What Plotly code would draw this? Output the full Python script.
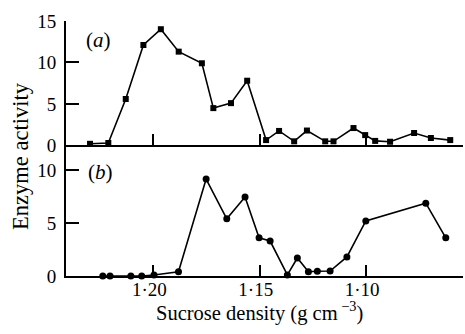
import plotly.graph_objects as go

# Panel (a): squares
dens_a = [1.2298, 1.2212, 1.2130, 1.2047, 1.1965, 1.1881, 1.1772, 1.1718, 1.1635,
          1.1559, 1.1470, 1.1409, 1.1338, 1.1278, 1.1192, 1.1153, 1.1059, 1.1004,
          1.0957, 1.0887, 1.0774, 1.0695, 1.0604]
act_a = [0.2, 0.3, 5.6, 12.1, 14.0, 11.3, 9.9, 4.5, 5.1,
         7.8, 0.65, 1.75, 0.5, 1.8, 0.5, 0.5, 2.1, 1.25,
         0.55, 0.45, 1.5, 0.9, 0.65]

# Panel (b): circles
dens_b = [1.2238, 1.2204, 1.2106, 1.2055, 1.1997, 1.1882, 1.1752, 1.1655, 1.1569,
          1.1503, 1.1451, 1.1370, 1.1323, 1.1271, 1.1229, 1.1169, 1.1090, 1.1001,
          1.0719, 1.0625]
act_b = [0.0, 0.0, 0.0, 0.0, 0.1, 0.4, 9.15, 5.4, 7.45,
         3.6, 3.3, 0.1, 1.7, 0.4, 0.45, 0.47, 1.8, 5.2,
         6.87, 3.6]

x_ticks = [1.20, 1.15, 1.10]
x_labels = ["1·20", "1·15", "1·10"]
ya_ticks = [0, 5, 10, 15]
yb_ticks = [0, 5, 10]

FONT = "Liberation Serif"
fig = go.Figure()
fig.add_trace(go.Scatter(x=dens_a, y=act_a, xaxis="x2", yaxis="y2", mode="lines+markers",
                         line=dict(color="black", width=1.6),
                         marker=dict(symbol="square", size=6, color="black"),
                         cliponaxis=False, showlegend=False))
fig.add_trace(go.Scatter(x=dens_b, y=act_b, xaxis="x", yaxis="y", mode="lines+markers",
                         line=dict(color="black", width=1.6),
                         marker=dict(symbol="circle", size=7, color="black"),
                         cliponaxis=False, showlegend=False))

xr = [1.2411, 1.0544]
common_x = dict(range=xr, showgrid=False, zeroline=False, showline=True, linecolor="black",
                linewidth=2, ticks="inside", ticklen=11, tickwidth=1.5, tickcolor="black",
                tickvals=x_ticks)
common_y = dict(showgrid=False, zeroline=False, showline=True, linecolor="black",
                linewidth=2, ticks="inside", ticklen=13, tickwidth=1.5, tickcolor="black",
                ticklabelstandoff=4,
                tickfont=dict(family=FONT, size=19, color="black"))

fig.update_layout(
    width=465, height=334,
    margin=dict(l=66, r=2, t=10, b=58),
    paper_bgcolor="white", plot_bgcolor="white",
    font=dict(family=FONT, color="black"),
    xaxis=dict(**common_x, anchor="y", ticktext=x_labels, ticklabelstandoff=-5,
               tickfont=dict(family=FONT, size=19, color="black"), ticklabelshift=4),
    xaxis2=dict(**common_x, anchor="y2", matches="x", showticklabels=False),
    yaxis=dict(**common_y, domain=[0, 0.4944], range=[0, 12.32], tickvals=yb_ticks, anchor="x"),
    yaxis2=dict(**common_y, domain=[0.4944, 0.9662], range=[0, 15], tickvals=ya_ticks, anchor="x2"),
    annotations=[
        dict(text="(<i>a</i>)", x=98, y=38.5, xref="paper", yref="paper", showarrow=False,
             xanchor="center", yanchor="middle", font=dict(family=FONT, size=21)),
        dict(text="(<i>b</i>)", x=100, y=171.5, xref="paper", yref="paper", showarrow=False,
             xanchor="center", yanchor="middle", font=dict(family=FONT, size=21)),
        dict(text="Sucrose density (g cm<sup> −3</sup>)", x=259, y=312, xref="paper", yref="paper",
             showarrow=False, xanchor="center", yanchor="middle", font=dict(family=FONT, size=20.5)),
        dict(text="Enzyme activity", x=21, y=155, xref="paper", yref="paper", showarrow=False,
             xanchor="center", yanchor="middle",
             textangle=-90, font=dict(family=FONT, size=22.5)),
    ],
)

# convert pixel-placed annotations to paper coords
W, H = 465, 334
l, r, t, b = 66, 2, 10, 58
pw, ph = W - l - r, H - t - b
for a in fig.layout.annotations:
    px, py = a.x, a.y
    a.x = (px - l) / pw
    a.y = (H - b - py) / ph

fig.write_html("out.html")
